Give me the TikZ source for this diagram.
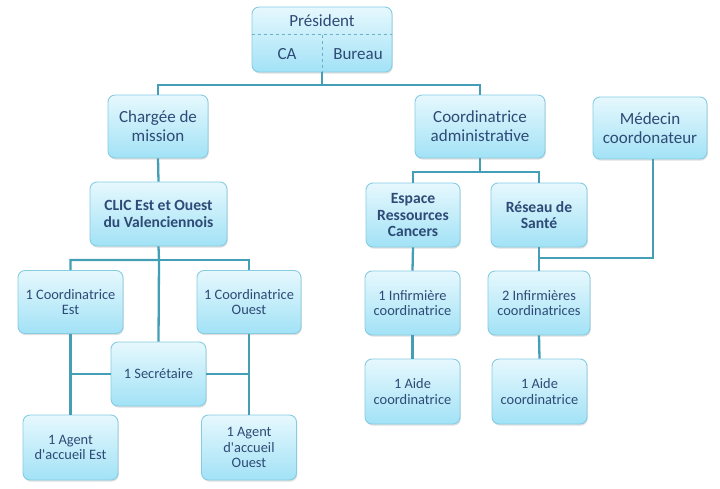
\documentclass[tikz,border=0pt]{standalone}
\usepackage{fontspec}
\setmainfont{Carlito}[Ligatures=TeXOff]
\usetikzlibrary{shadows}
\definecolor{boxline}{HTML}{86CDE2}
\definecolor{boxtop}{HTML}{E6F8FD}
\definecolor{boxbot}{HTML}{A2E2F6}
\definecolor{txtcol}{HTML}{2E4A76}
\definecolor{linkcol}{HTML}{439EB6}
\tikzset{
  box/.style={draw=boxline, line width=0.9pt, rounded corners=7pt, top color=boxtop, bottom color=boxbot,
    align=center, text=txtcol, inner sep=1pt, drop shadow={shadow xshift=0.8pt, shadow yshift=-1.6pt, opacity=0.25}},
  petit/.style={box, font=\fontsize{14.4}{15.5}\selectfont},
  grand/.style={box, font=\fontsize{17}{19}\selectfont},
  gras/.style={box, font=\fontsize{15.6}{16.5}\selectfont\bfseries},
  lien/.style={draw=linkcol, line width=2.3pt},
  sep/.style={draw=linkcol!80, dashed, line width=0.7pt}
}
\begin{document}
\begin{tikzpicture}[x=1pt,y=-1pt]
  \useasboundingbox (0,0) rectangle (720,489);
  % liaisons
  \coordinate (j1) at (322,85);
  \coordinate (j2) at (159,260);
  \coordinate (j3) at (480,172);
  \coordinate (j4) at (653,258);
  \node[box, minimum width=140pt, minimum height=65pt] (pres) at (322,39.5) {};
  \node[grand, minimum width=100pt, minimum height=63pt] (charg) at (158,126.5) {Chargée de\\mission};
  \node[grand, minimum width=130pt, minimum height=63pt] (coadm) at (480,126.5) {Coordinatrice\\administrative};
  \node[grand, minimum width=114pt, minimum height=62pt] (med) at (650,128) {Médecin\\coordonateur};
  \node[gras, minimum width=137pt, minimum height=64pt] (clic) at (158.5,214) {CLIC Est et Ouest\\du Valenciennois};
  \node[gras, minimum width=94pt, minimum height=64pt] (erc) at (413,215) {Espace\\Ressources\\Cancers};
  \node[gras, minimum width=96pt, minimum height=64pt] (res) at (539,215) {Réseau de\\Santé};
  \node[petit, minimum width=105pt, minimum height=63pt] (coest) at (70.5,302) {1 Coordinatrice\\Est};
  \node[petit, minimum width=104pt, minimum height=63pt] (coouest) at (249,302) {1 Coordinatrice\\Ouest};
  \node[petit, minimum width=95pt, minimum height=64pt] (secr) at (158.5,374) {1 Secrétaire};
  \node[petit, minimum width=95pt, minimum height=65pt] (agest) at (70.5,447.5) {1 Agent\\d'accueil Est};
  \node[petit, minimum width=95pt, minimum height=65pt] (agouest) at (249,447.5) {1 Agent\\d'accueil\\Ouest};
  \node[petit, minimum width=95pt, minimum height=64pt] (inf1) at (412.5,303) {1 Infirmière\\coordinatrice};
  \node[petit, minimum width=102pt, minimum height=64pt] (inf2) at (539,303) {2 Infirmières\\coordinatrices};
  \node[petit, minimum width=95pt, minimum height=65pt] (aide1) at (412.5,391.5) {1 Aide\\coordinatrice};
  \node[petit, minimum width=95pt, minimum height=65pt] (aide2) at (539.5,391.5) {1 Aide\\coordinatrice};
  \draw[lien] (pres.south) -- (j1) -| (charg.north);
  \draw[lien] (j1) -| (coadm.north);
  \draw[lien] (charg.south) -- (clic.north);
  \draw[lien] (clic.south) -- (j2) -| (coest.north);
  \draw[lien] (j2) -| (coouest.north);
  \draw[lien] (j2) -- (secr.north);
  \draw[lien] (coest.south) -- (agest.north);
  \draw[lien] (coouest.south) -- (agouest.north);
  \draw[lien] (secr.west) -- (secr.west -| coest.south);
  \draw[lien] (secr.east) -- (secr.east -| coouest.south);
  \draw[lien] (coadm.south) -- (j3) -| (erc.north);
  \draw[lien] (j3) -| (res.north);
  \draw[lien] (erc.south) -- (inf1.north);
  \draw[lien] (inf1.south) -- (aide1.north);
  \draw[lien] (res.south) -- (inf2.north);
  \draw[lien] (inf2.south) -- (aide2.north);
  \draw[lien] (med.south -| j4) -- (j4) -| (res.south);
  % boite du president
  \draw[sep] ([yshift=-28pt]pres.north west) -- ([yshift=-28pt]pres.north east);
  \draw[sep] ([yshift=-28pt]pres.north) -- (pres.south);
  \node[text=txtcol, font=\fontsize{17}{19}\selectfont] (presnom) at (322,21) {Président};
  \node[text=txtcol, font=\fontsize{17}{19}\selectfont] (ca) at (287,54) {CA};
  \node[text=txtcol, font=\fontsize{17}{19}\selectfont] (bureau) at (358,54) {Bureau};
\end{tikzpicture}
\end{document}
